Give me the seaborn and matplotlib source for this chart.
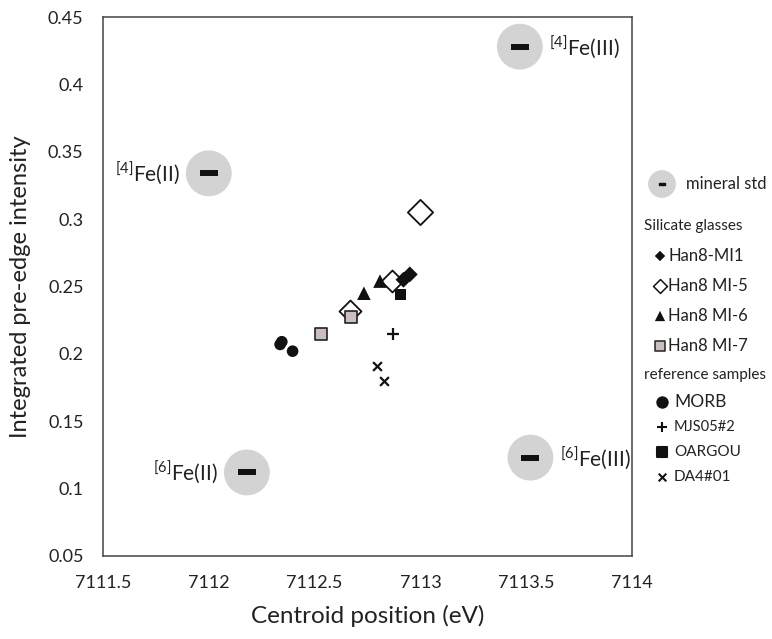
import numpy as np
import pandas as pd
import matplotlib
matplotlib.use("Agg")
import matplotlib.pyplot as plt
from matplotlib.path import Path
from matplotlib.ticker import FuncFormatter, MultipleLocator
import seaborn as sns

# mineral standards (centroid eV, integrated intensity)
std_labels = ["$\\mathregular{^{[4]}}$Fe(II)", "$\\mathregular{^{[6]}}$Fe(II)",
              "$\\mathregular{^{[4]}}$Fe(III)", "$\\mathregular{^{[6]}}$Fe(III)"]
std_x = [7112.00, 7112.18, 7113.47, 7113.52]
std_y = [0.334, 0.112, 0.428, 0.123]

# silicate glasses
mi1_x = [7112.95, 7112.92]
mi1_y = [0.259, 0.255]
mi5_x = [7112.667, 7112.864, 7113.00]
mi5_y = [0.232, 0.254, 0.305]
mi6_x = [7112.733, 7112.809]
mi6_y = [0.245, 0.254]
mi7_x = [7112.53, 7112.67]
mi7_y = [0.215, 0.227]

# reference samples
morb_x = [7112.345, 7112.337, 7112.396]
morb_y = [0.209, 0.207, 0.202]
mjs_x = [7112.872]
mjs_y = [0.215]
oargou_x = [7112.907]
oargou_y = [0.244]
da4_x = [7112.797, 7112.830]
da4_y = [0.191, 0.180]

sns.set_style("white")
plt.rcParams["font.family"] = ["Lato", "DejaVu Sans"]
plt.rcParams["mathtext.fontset"] = "custom"
plt.rcParams["mathtext.rm"] = "Lato"

fig = plt.figure(figsize=(7.72, 6.39), dpi=100)
ax = fig.add_axes([103 / 772, 1 - 556 / 639, 529 / 772, 539 / 639])

bar = Path([(-1.5, -0.5), (1.5, -0.5), (1.5, 0.5), (-1.5, 0.5), (-1.5, -0.5)],
           [Path.MOVETO, Path.LINETO, Path.LINETO, Path.LINETO, Path.CLOSEPOLY])

std = pd.DataFrame({"x": std_x, "y": std_y})
sns.scatterplot(data=std, x="x", y="y", ax=ax, s=1089, color="#d3d3d3",
                edgecolor="none", zorder=2)
sns.scatterplot(data=std, x="x", y="y", ax=ax, s=170, marker=bar,
                color="#111111", edgecolor="none", zorder=3)

offsets = [(-21, 0, "right"), (-21, 0, "right"), (21, 0, "left"), (21, 0, "left")]
for lab, x, y, (dx, dy, ha) in zip(std_labels, std_x, std_y, offsets):
    ax.annotate(lab, (x, y), xytext=(dx, dy), textcoords="offset points",
                ha=ha, va="center", fontsize=15, color="#222222")

def pts(xs, ys, **kw):
    sns.scatterplot(x=xs, y=ys, ax=ax, zorder=4, **kw)

pts(mi5_x[:2], mi5_y[:2], marker="D", s=125, color="white", edgecolor="#111111", linewidth=1.3)
pts(mi5_x[2:], mi5_y[2:], marker="D", s=165, color="white", edgecolor="#111111", linewidth=1.3)
pts(mi7_x, mi7_y, marker="s", s=80, color="#cbbfbe", edgecolor="#222222", linewidth=1.2)
pts(mi6_x, mi6_y, marker="^", s=95, color="#111111", edgecolor="none")
pts(mi1_x, mi1_y, marker="D", s=65, color="#111111", edgecolor="none")
pts(morb_x, morb_y, marker="o", s=70, color="#111111", edgecolor="none")
pts(mjs_x, mjs_y, marker="+", s=70, color="#111111", linewidth=1.6)
pts(oargou_x, oargou_y, marker="s", s=62, color="#111111", edgecolor="none")
pts(da4_x, da4_y, marker="x", s=40, color="#111111", linewidth=1.6)

ax.set_xlim(7111.5, 7114)
ax.set_ylim(0.05, 0.45)
ax.xaxis.set_major_locator(MultipleLocator(0.5))
ax.yaxis.set_major_locator(MultipleLocator(0.05))
ax.xaxis.set_major_formatter(FuncFormatter(lambda v, p: "%g" % round(v, 2)))
ax.yaxis.set_major_formatter(FuncFormatter(lambda v, p: "%g" % round(v, 2)))
ax.tick_params(direction="in", length=5, width=1, color="#444444",
               labelsize=13, labelcolor="#222222", pad=14)
ax.tick_params(axis="x", pad=14)
for sp in ax.spines.values():
    sp.set_color("#444444")
    sp.set_linewidth(1.1)
ax.set_xlabel("Centroid position (eV)", fontsize=17.5, color="#222222", labelpad=10)
ax.set_ylabel("Integrated pre-edge intensity", fontsize=17, color="#222222", labelpad=12)

# legend drawn in figure pixel space
lax = fig.add_axes([0, 0, 1, 1], zorder=5)
lax.set_xlim(0, 772)
lax.set_ylim(639, 0)
lax.axis("off")

lax.scatter([662], [184], s=400, color="#d3d3d3", edgecolor="none")
lax.scatter([662], [184], s=22, marker=bar, color="#111111")
lax.text(686, 184, "mineral std", fontsize=12, va="center", color="#222222")

lax.text(644, 226, "Silicate glasses", fontsize=11, va="center", color="#222222")
sil = [("D", "#111111", "none", 28, "Han8-MI1"),
       ("D", "white", "#111111", 50, "Han8 MI-5"),
       ("^", "#111111", "none", 55, "Han8 MI-6"),
       ("s", "#cbbfbe", "#222222", 60, "Han8 MI-7")]
for i, (m, fc, ec, s, lab) in enumerate(sil):
    y = 256 + i * 30
    lax.scatter([660], [y], marker=m, s=s, color=fc, edgecolor=ec, linewidth=1.1)
    lax.text(668, y, lab, fontsize=12, va="center", color="#222222")

lax.text(644, 375, "reference samples", fontsize=11, va="center", color="#222222")
ref = [("o", 55, "MORB", 12.5), ("+", 55, "MJS05#2", 10.5),
       ("s", 45, "OARGOU", 11), ("x", 30, "DA4#01", 11)]
for i, (m, s, lab, fs) in enumerate(ref):
    y = 402 + i * 25
    lax.scatter([662], [y], marker=m, s=s, color="#111111", linewidth=1.5)
    lax.text(674, y, lab, fontsize=fs, va="center", color="#222222")

fig.savefig("out.png", dpi=100)
